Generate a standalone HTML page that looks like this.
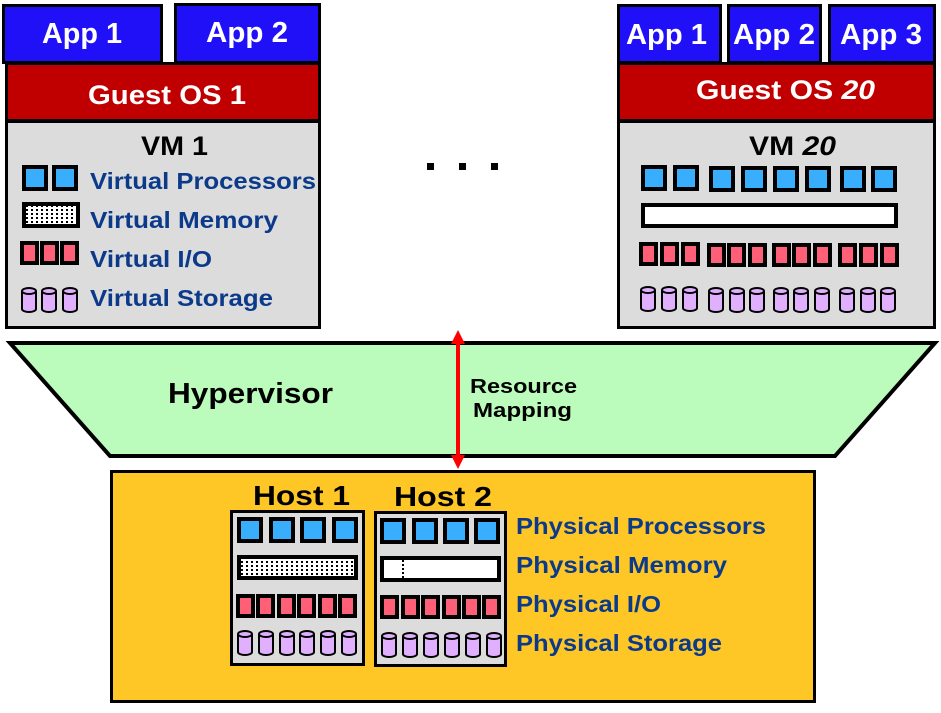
<!DOCTYPE html>
<html><head><meta charset="utf-8"><style>
html,body{margin:0;padding:0;background:#fff;}
svg{display:block;}
text{font-family:"Liberation Sans",sans-serif;font-weight:bold;}
</style></head><body>
<svg width="941" height="713" viewBox="0 0 941 713" xmlns="http://www.w3.org/2000/svg">
<defs>
<symbol id="p" overflow="visible"><rect x="2" y="2" width="22" height="22" fill="#38aefc" stroke="#000" stroke-width="4"/></symbol>
<symbol id="io" overflow="visible"><rect x="2" y="2" width="15" height="20" fill="#ff6078" stroke="#000" stroke-width="4"/></symbol>
<symbol id="c" overflow="visible"><path d="M1,4 v18 a7,3 0 0 0 14,0 v-18" fill="#e0b0ff" stroke="#000" stroke-width="2"/><ellipse cx="8" cy="4" rx="7" ry="3" fill="#e0b0ff" stroke="#000" stroke-width="2"/></symbol>
<pattern id="dots" width="5" height="4" patternUnits="userSpaceOnUse"><rect width="5" height="4" fill="#fff"/><rect x="1" y="1" width="2" height="2" fill="#000"/></pattern>
</defs>

<!-- Left VM -->
<rect x="3.5" y="5.5" width="158" height="57" fill="#1f10f8" stroke="#000" stroke-width="3"/>
<rect x="175.5" y="4.5" width="144" height="58" fill="#1f10f8" stroke="#000" stroke-width="3"/>
<text x="42" y="43" font-size="29" fill="#fff" textLength="80" lengthAdjust="spacingAndGlyphs">App 1</text>
<text x="206" y="42" font-size="29" fill="#fff" textLength="82" lengthAdjust="spacingAndGlyphs">App 2</text>
<rect x="6.5" y="63.5" width="313" height="57" fill="#c00000" stroke="#000" stroke-width="3"/>
<text x="88" y="104" font-size="27" fill="#fff" textLength="158" lengthAdjust="spacingAndGlyphs">Guest OS 1</text>
<rect x="6.5" y="121.5" width="313" height="206" fill="#dcdcdc" stroke="#000" stroke-width="3"/>
<text x="141" y="155" font-size="27" fill="#000" textLength="67" lengthAdjust="spacingAndGlyphs">VM 1</text>
<use href="#p" x="22" y="165"/><use href="#p" x="52" y="165"/>
<rect x="24" y="204" width="54" height="22" fill="url(#dots)" stroke="#000" stroke-width="4"/>
<use href="#io" x="20" y="241"/><use href="#io" x="40" y="241"/><use href="#io" x="60" y="241"/>
<use href="#c" x="21" y="287"/><use href="#c" x="41" y="287"/><use href="#c" x="62" y="287"/>
<g fill="#0b3a8a" font-size="23">
<text x="90" y="189" textLength="226" lengthAdjust="spacingAndGlyphs">Virtual Processors</text>
<text x="90" y="228" textLength="188" lengthAdjust="spacingAndGlyphs">Virtual Memory</text>
<text x="90" y="267" textLength="122" lengthAdjust="spacingAndGlyphs">Virtual I/O</text>
<text x="90" y="306" textLength="183" lengthAdjust="spacingAndGlyphs">Virtual Storage</text>
</g>

<!-- dots -->
<rect x="427" y="163" width="7" height="7" fill="#000"/>
<rect x="459" y="163" width="7" height="7" fill="#000"/>
<rect x="491" y="163" width="7" height="7" fill="#000"/>

<!-- Right VM -->
<rect x="618.5" y="5.5" width="102" height="57" fill="#1f10f8" stroke="#000" stroke-width="3"/>
<rect x="728.5" y="5.5" width="92" height="57" fill="#1f10f8" stroke="#000" stroke-width="3"/>
<rect x="829.5" y="5.5" width="105" height="57" fill="#1f10f8" stroke="#000" stroke-width="3"/>
<text x="626" y="44" font-size="29" fill="#fff" textLength="81" lengthAdjust="spacingAndGlyphs">App 1</text>
<text x="733" y="44" font-size="29" fill="#fff" textLength="82" lengthAdjust="spacingAndGlyphs">App 2</text>
<text x="840" y="44" font-size="29" fill="#fff" textLength="82" lengthAdjust="spacingAndGlyphs">App 3</text>
<rect x="618.5" y="63.5" width="316" height="57" fill="#c00000" stroke="#000" stroke-width="3"/>
<text x="696" y="99" font-size="27" fill="#fff" textLength="179" lengthAdjust="spacingAndGlyphs">Guest OS <tspan font-style="italic">20</tspan></text>
<rect x="618.5" y="121.5" width="316" height="206" fill="#dcdcdc" stroke="#000" stroke-width="3"/>
<text x="749" y="155" font-size="27" fill="#000" textLength="87" lengthAdjust="spacingAndGlyphs">VM <tspan font-style="italic">20</tspan></text>
<use href="#p" x="641" y="165"/><use href="#p" x="673" y="165"/>
<use href="#p" x="709" y="166"/><use href="#p" x="741" y="166"/><use href="#p" x="773" y="166"/><use href="#p" x="805" y="166"/><use href="#p" x="840" y="166"/><use href="#p" x="871" y="166"/>
<rect x="643" y="205" width="253" height="21" fill="#fff" stroke="#000" stroke-width="4"/>
<use href="#io" x="639" y="242"/><use href="#io" x="660" y="242"/><use href="#io" x="681" y="242"/>
<use href="#io" x="707" y="243"/><use href="#io" x="727" y="243"/><use href="#io" x="748" y="243"/>
<use href="#io" x="772" y="243"/><use href="#io" x="792" y="243"/><use href="#io" x="813" y="243"/>
<use href="#io" x="838" y="243"/><use href="#io" x="859" y="243"/><use href="#io" x="880" y="243"/>
<use href="#c" x="640" y="286"/><use href="#c" x="661" y="286"/><use href="#c" x="682" y="286"/>
<use href="#c" x="708" y="287"/><use href="#c" x="729" y="287"/><use href="#c" x="749" y="287"/>
<use href="#c" x="773" y="287"/><use href="#c" x="793" y="287"/><use href="#c" x="814" y="287"/>
<use href="#c" x="839" y="287"/><use href="#c" x="860" y="287"/><use href="#c" x="880" y="287"/>

<!-- Hypervisor -->
<polygon points="10,343 935,343 835,456 110,456" fill="#bbfbbb" stroke="#000" stroke-width="4" stroke-linejoin="miter"/>
<text x="168" y="403" font-size="29" fill="#000" textLength="165" lengthAdjust="spacingAndGlyphs">Hypervisor</text>
<text x="470" y="393" font-size="20" fill="#000" textLength="107" lengthAdjust="spacingAndGlyphs">Resource</text>
<text x="473" y="417" font-size="20" fill="#000" textLength="99" lengthAdjust="spacingAndGlyphs">Mapping</text>

<!-- Physical box -->
<rect x="111.5" y="471.5" width="703" height="230" fill="#ffc726" stroke="#000" stroke-width="3"/>

<!-- Arrow -->
<line x1="458" y1="342" x2="458" y2="457" stroke="#f00" stroke-width="4"/>
<polygon points="458,330 451,344 465,344" fill="#f00"/>
<polygon points="458,469 451,455 465,455" fill="#f00"/>

<text x="253" y="505" font-size="28" fill="#000" textLength="97" lengthAdjust="spacingAndGlyphs">Host 1</text>
<text x="394" y="506" font-size="28" fill="#000" textLength="98" lengthAdjust="spacingAndGlyphs">Host 2</text>

<rect x="231.5" y="511.5" width="132" height="153" fill="#dcdcdc" stroke="#000" stroke-width="3"/>
<use href="#p" x="237" y="517"/><use href="#p" x="269" y="517"/><use href="#p" x="300" y="517"/><use href="#p" x="332" y="517"/>
<rect x="239" y="557" width="117" height="21" fill="url(#dots)" stroke="#000" stroke-width="4"/>
<use href="#io" x="236" y="594"/><use href="#io" x="256" y="594"/><use href="#io" x="277" y="594"/><use href="#io" x="297" y="594"/><use href="#io" x="318" y="594"/><use href="#io" x="338" y="594"/>
<use href="#c" x="237" y="630"/><use href="#c" x="258" y="630"/><use href="#c" x="279" y="630"/><use href="#c" x="299" y="630"/><use href="#c" x="320" y="630"/><use href="#c" x="341" y="630"/>

<rect x="375.5" y="512.5" width="130" height="153" fill="#dcdcdc" stroke="#000" stroke-width="3"/>
<use href="#p" x="380" y="518"/><use href="#p" x="412" y="518"/><use href="#p" x="443" y="518"/><use href="#p" x="474" y="518"/>
<rect x="382" y="558" width="117" height="22" fill="#fff" stroke="#000" stroke-width="4"/>
<line x1="403" y1="560" x2="403" y2="578" stroke="#000" stroke-width="2" stroke-dasharray="2,2"/>
<use href="#io" x="380" y="595"/><use href="#io" x="401" y="595"/><use href="#io" x="421" y="595"/><use href="#io" x="442" y="595"/><use href="#io" x="462" y="595"/><use href="#io" x="482" y="595"/>
<use href="#c" x="381" y="632"/><use href="#c" x="402" y="632"/><use href="#c" x="423" y="632"/><use href="#c" x="444" y="632"/><use href="#c" x="465" y="632"/><use href="#c" x="486" y="632"/>

<g fill="#0b3a8a" font-size="23">
<text x="516" y="534" textLength="250" lengthAdjust="spacingAndGlyphs">Physical Processors</text>
<text x="516" y="573" textLength="211" lengthAdjust="spacingAndGlyphs">Physical Memory</text>
<text x="516" y="612" textLength="145" lengthAdjust="spacingAndGlyphs">Physical I/O</text>
<text x="516" y="651" textLength="206" lengthAdjust="spacingAndGlyphs">Physical Storage</text>
</g>
</svg>
</body></html>
